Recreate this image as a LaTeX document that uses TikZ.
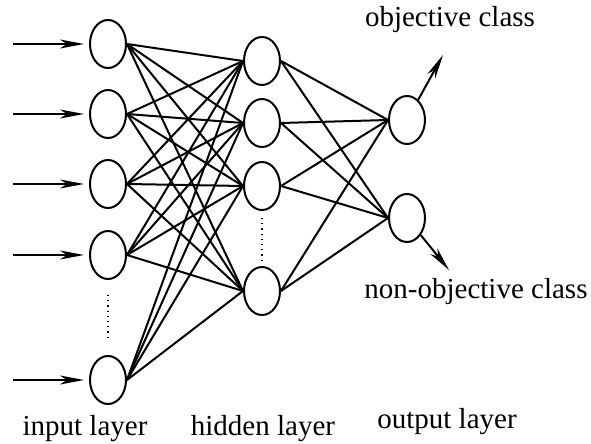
\documentclass[tikz,border=0pt]{standalone}
\usepackage{fontspec}
\setmainfont{Liberation Serif}
\newfontfamily\layerfont{Liberation Serif}
\usetikzlibrary{shapes.geometric, arrows.meta}
\tikzstyle{neuron} = [ellipse, minimum width=18pt, minimum height=24pt, inner sep=0pt, draw=black, line width=1pt]
\tikzstyle{link} = [line width=1pt]
\tikzstyle{arrow} = [line width=1pt,-{Stealth[length=12pt,width=4.5pt,inset=3.5pt]}]
\tikzstyle{dotline} = [dotted, line width=0.6pt]
\tikzstyle{layertext} = [anchor=base, inner sep=0pt, font=\layerfont\fontsize{14.5}{17}\selectfont]

\begin{document}
\begin{tikzpicture}[x=0.5pt, y=-0.5pt, node distance=35pt]
    \useasboundingbox (0,0) rectangle (591,444);

    % input layer
    \node (in1) [neuron] at (108,44) {};
    \node (in2) [neuron, below of=in1] {};
    \node (in3) [neuron, below of=in2] {};
    \node (in4) [neuron, below of=in3, node distance=35.5pt] {};
    \node (in5) [neuron, below of=in4, node distance=62.5pt] {};

    % hidden layer
    \node (hid1) [neuron] at (262,61) {};
    \node (hid2) [neuron, below of=hid1, node distance=31pt] {};
    \node (hid3) [neuron, below of=hid2, node distance=31.5pt] {};
    \node (hid4) [neuron, below of=hid3, node distance=52.5pt] {};

    % output layer
    \node (out1) [neuron] at (407,120) {};
    \node (out2) [neuron, below of=out1, node distance=49pt] {};

    \coordinate (s1) at (13,44);
    \coordinate (s2) at (13,114);
    \coordinate (s3) at (13,184);
    \coordinate (s4) at (13,255);
    \coordinate (s5) at (13,380);
    \coordinate (e1) at (443,55);
    \coordinate (e2) at (449,270);

    \node (lblobj) [layertext] at (450,27) {objective class};
    \node (lblnon) [layertext] at (476,299) {non-objective class};
    \node (lblin) [layertext] at (85,436) {input layer};
    \node (lblhid) [layertext] at (263,436) {hidden layer};
    \node (lblout) [layertext] at (447,429) {output layer};

    \foreach \i in {1,...,5}
        \draw [arrow, shorten >=2.5pt] (s\i) -- (in\i);

    \foreach \i in {1,...,5}
        \foreach \j in {1,...,4}
            \draw [link] (in\i.east) -- (hid\j.west);

    \foreach \j in {1,...,4}
        \foreach \k in {1,2}
            \draw [link] (hid\j.east) -- (out\k.west);

    \draw [arrow] (out1) -- (e1);
    \draw [arrow] (out2) -- (e2);

    \draw [dotline, shorten <=7.5pt, shorten >=8.5pt] (in4.south) -- (in5.north);
    \draw [dotline, shorten <=3.5pt, shorten >=2pt] (hid3.south) -- (hid4.north);
\end{tikzpicture}
\end{document}
